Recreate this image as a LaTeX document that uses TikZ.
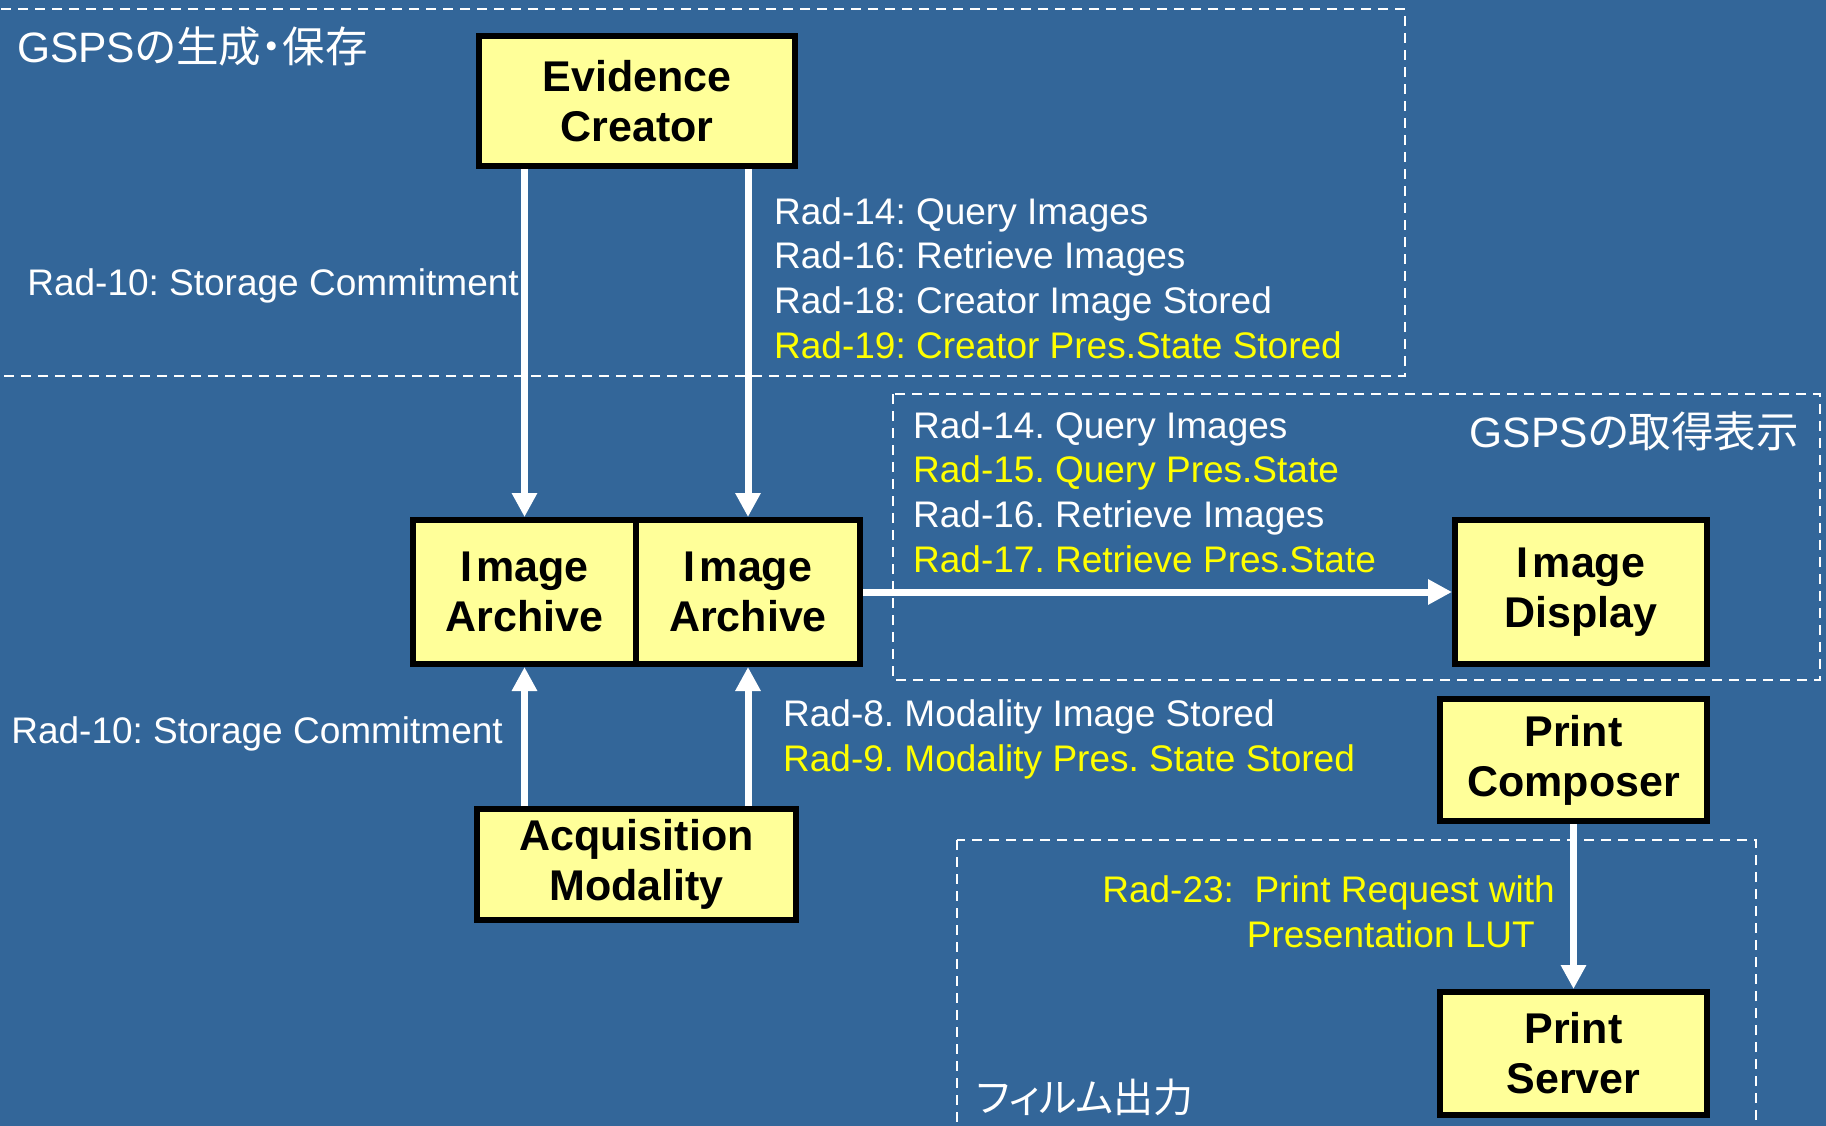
\documentclass[tikz,border=0pt]{standalone}
\usepackage{fontspec}
\setmainfont{Liberation Sans}
\newfontfamily\jp[RawFeature=+palt]{Noto Sans CJK JP}
\usetikzlibrary{arrows.meta}
\definecolor{bg}{HTML}{336699}
\definecolor{boxfill}{HTML}{FFFF99}
\definecolor{ylw}{HTML}{FFFF00}
\begin{document}
\frenchspacing
\begin{tikzpicture}[x=1pt,y=-1pt,
  box/.style={draw=black, line width=6pt, fill=boxfill, align=center,
    font=\fontsize{43}{50}\selectfont\bfseries, inner sep=0pt,
    execute at begin node={\rule{0pt}{39pt}}},
  flow/.style={draw=white, line width=7pt, -{Triangle[width=24pt,length=24pt]}},
  lbl/.style={text=white, font=\fontsize{37}{44.6}\selectfont, inner sep=0pt, align=left},
  grp/.style={draw=white, line width=2.2pt, dash pattern=on 10pt off 7pt},
  ttl/.style={text=white, font=\fontsize{42.5}{50}\selectfont, inner sep=0pt}]
\fill[bg] (0,0) rectangle (1826,1126);
\useasboundingbox (0,0) rectangle (1826,1126);
% groups
\draw[grp] (-20,9) rectangle (1405,376);
\draw[grp] (893,394) rectangle (1820,680);
\draw[grp] (957,840) rectangle (1756,1150);
% actors
\node[box, minimum width=316pt, minimum height=130pt] (ec) at (637,101) {Evidence\\Creator};
\node[box, minimum width=223pt, minimum height=144pt] (ia1) at (524.5,592) {I\kern4pt mage\\Archive};
\node[box, minimum width=224pt, minimum height=144pt] (ia2) at (748,592) {I\kern4pt mage\\Archive};
\node[box, minimum width=319pt, minimum height=111pt] (am) at (636.5,864.5) {Acquisition\\Modality};
\node[box, minimum width=252pt, minimum height=144pt] (disp) at (1581,592) {I\kern4pt mage\\Display};
\node[box, minimum width=267pt, minimum height=122pt] (pc) at (1573.5,760) {Print\\Composer};
\node[box, minimum width=267pt, minimum height=123pt] (ps) at (1573.5,1053.5) {Print\\Server};
% transactions
\draw[flow] (ec.south -| ia1.center) -- (ia1.north);
\draw[flow] (ec.south -| ia2.center) -- (ia2.north);
\draw[flow] (am.north -| ia1.center) -- (ia1.south);
\draw[flow] (am.north -| ia2.center) -- (ia2.south);
\draw[flow] (ia2.east) -- (disp.west);
\draw[flow] (pc.south) -- (ps.north);
% labels
\node[lbl, anchor=east] (sc1) at (519,285.5) {Rad-10: Storage Commitment};
\node[lbl, anchor=east] (sc2) at (503,734) {Rad-10: Storage Commitment};
\node[lbl, anchor=base west] (q1) at (774,358) {Rad-14: Query Images\\Rad-16: Retrieve Images\\Rad-18: Creator Image Stored\\\textcolor{ylw}{Rad-19: Creator Pres.State Stored}};
\node[lbl, anchor=base west] (q2) at (913,572) {Rad-14. Query Images\\\textcolor{ylw}{Rad-15. Query Pres.State}\\Rad-16. Retrieve Images\\\textcolor{ylw}{Rad-17. Retrieve Pres.State}};
\node[lbl, anchor=base west] (q3) at (783,771) {Rad-8. Modality Image Stored\\\textcolor{ylw}{Rad-9. Modality Pres. State Stored}};
\node[lbl, anchor=base east, align=right, text=ylw] (q4) at (1555,947) {Rad-23:~ Print Request with\\Presentation LUT\hspace*{20pt}};
% titles
\node[ttl, anchor=west] (t1) at (17,47) {GSPS{\jp の生成・保存}};
\node[ttl, anchor=east] (t2) at (1799,431) {GSPS{\jp の取得表示}};
\node[ttl, anchor=west, font=\fontsize{40}{48}\selectfont\jp] (t3) at (976,1097) {フィルム出力};
\end{tikzpicture}
\end{document}
